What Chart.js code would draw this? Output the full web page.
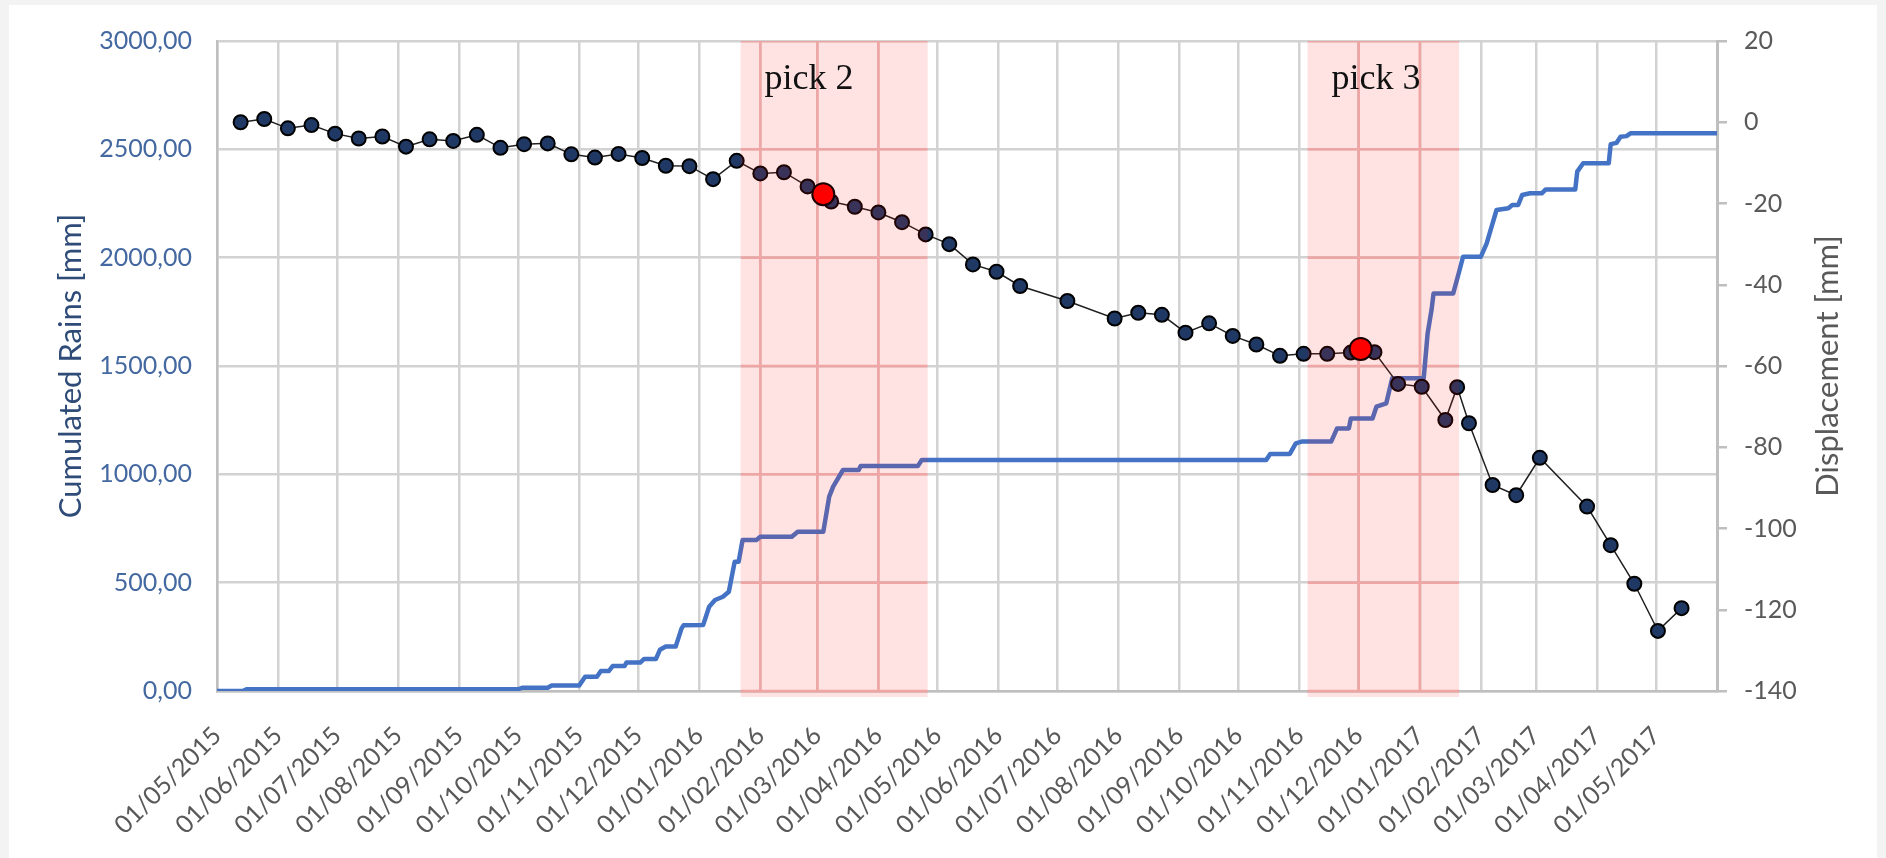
<!DOCTYPE html>
<html>
<head>
<meta charset="utf-8">
<title>Cumulated rains and displacement</title>
<script src="https://cdn.jsdelivr.net/npm/chart.js@4.4.1/dist/chart.umd.min.js"></script>
<style>
  html, body { margin: 0; padding: 0; background: #f3f3f3; width: 1886px; height: 858px; overflow: hidden; }
  #card { position: absolute; left: 9px; top: 5px; width: 1868px; height: 853px; background: #ffffff; }
  #chart { position: absolute; left: 0; top: 0; }
</style>
</head>
<body>
<div id="card"></div>
<canvas id="chart" width="1886" height="858"></canvas>
<script>
// ---- axis range and month labels ----
const axisStart = '2015-05-01';
const axisEnd = '2017-06-01';
const monthLabels = [
  '01/05/2015', '01/06/2015', '01/07/2015', '01/08/2015', '01/09/2015', '01/10/2015',
  '01/11/2015', '01/12/2015', '01/01/2016', '01/02/2016', '01/03/2016', '01/04/2016',
  '01/05/2016', '01/06/2016', '01/07/2016', '01/08/2016', '01/09/2016', '01/10/2016',
  '01/11/2016', '01/12/2016', '01/01/2017', '01/02/2017', '01/03/2017', '01/04/2017',
  '01/05/2017'
];

// ---- cumulated rainfall [mm] ----
const rainDates = [
  '2015-05-01', '2015-05-14', '2015-05-16', '2015-10-01', '2015-10-03', '2015-10-16',
  '2015-10-18', '2015-11-01', '2015-11-04', '2015-11-10', '2015-11-12', '2015-11-16',
  '2015-11-18', '2015-11-24', '2015-11-25', '2015-12-02', '2015-12-04', '2015-12-10',
  '2015-12-12', '2015-12-15', '2015-12-20', '2015-12-23', '2015-12-24', '2016-01-03',
  '2016-01-06', '2016-01-09', '2016-01-13', '2016-01-16', '2016-01-19', '2016-01-21',
  '2016-01-23', '2016-01-30', '2016-02-01', '2016-02-17', '2016-02-20', '2016-03-04',
  '2016-03-07', '2016-03-09', '2016-03-14', '2016-03-22', '2016-03-23', '2016-04-21',
  '2016-04-23', '2016-10-15', '2016-10-17', '2016-10-27', '2016-10-30', '2016-11-02',
  '2016-11-17', '2016-11-20', '2016-11-26', '2016-11-27', '2016-12-08', '2016-12-10',
  '2016-12-15', '2016-12-18', '2017-01-03', '2017-01-05', '2017-01-07', '2017-01-08',
  '2017-01-18', '2017-01-21', '2017-01-23', '2017-02-01', '2017-02-04', '2017-02-09',
  '2017-02-15', '2017-02-17', '2017-02-20', '2017-02-22', '2017-02-26', '2017-03-04',
  '2017-03-06', '2017-03-21', '2017-03-22', '2017-03-25', '2017-04-07', '2017-04-08',
  '2017-04-11', '2017-04-13', '2017-04-16', '2017-04-18', '2017-06-01'
];
const rainValues = [
  0, 0, 8, 8, 15, 15,
  25, 25, 66, 66, 92, 92,
  115, 115, 131, 131, 148, 148,
  190, 205, 205, 289, 303, 305,
  389, 420, 435, 458, 597, 597,
  697, 697, 712, 712, 735, 735,
  897, 943, 1020, 1020, 1038, 1038,
  1066, 1066, 1094, 1094, 1143, 1151,
  1151, 1212, 1212, 1258, 1258, 1312,
  1328, 1443, 1443, 1651, 1760, 1835,
  1835, 1935, 2004, 2004, 2066, 2220,
  2228, 2243, 2243, 2289, 2297, 2297,
  2315, 2315, 2397, 2436, 2436, 2524,
  2530, 2558, 2561, 2574, 2574
];

// ---- displacement [mm] ----
const dispDates = [
  '2015-05-13', '2015-05-25', '2015-06-06', '2015-06-18', '2015-06-30', '2015-07-12',
  '2015-07-24', '2015-08-05', '2015-08-17', '2015-08-29', '2015-09-10', '2015-09-22',
  '2015-10-04', '2015-10-16', '2015-10-28', '2015-11-09', '2015-11-21', '2015-12-03',
  '2015-12-15', '2015-12-27', '2016-01-08', '2016-01-20', '2016-02-01', '2016-02-13',
  '2016-02-25', '2016-03-08', '2016-03-20', '2016-04-01', '2016-04-13', '2016-04-25',
  '2016-05-07', '2016-05-19', '2016-05-31', '2016-06-12', '2016-07-06', '2016-07-30',
  '2016-08-11', '2016-08-23', '2016-09-04', '2016-09-16', '2016-09-28', '2016-10-10',
  '2016-10-22', '2016-11-03', '2016-11-15', '2016-11-27', '2016-12-09', '2016-12-21',
  '2017-01-02', '2017-01-14', '2017-01-20', '2017-01-26', '2017-02-07', '2017-02-19',
  '2017-03-03', '2017-03-27', '2017-04-08', '2017-04-20', '2017-05-02', '2017-05-14'
];
const dispValues = [
  0.0, 0.8, -1.5, -0.7, -2.8, -4.0,
  -3.5, -6.0, -4.2, -4.6, -3.1, -6.3,
  -5.4, -5.2, -7.9, -8.7, -7.8, -8.8,
  -10.7, -10.8, -14.0, -9.5, -12.6, -12.3,
  -15.8, -19.5, -20.8, -22.2, -24.6, -27.6,
  -30.0, -35.0, -36.8, -40.3, -44.0, -48.3,
  -46.9, -47.4, -51.8, -49.5, -52.6, -54.7,
  -57.5, -57.0, -57.0, -56.7, -56.6, -64.4,
  -65.1, -73.3, -65.2, -74.1, -89.3, -91.8,
  -82.6, -94.6, -104.1, -113.6, -125.2, -119.6
];

// ---- rainfall peaks: highlighted displacement and shaded periods ----
const peakDates = ['2016-03-04', '2016-12-02'];
const peakValues = [-17.7, -55.8];
const peakNames = ['pick 2', 'pick 3'];
const peakStart = ['2016-01-22', '2016-11-05'];
const peakEnd = ['2016-04-26', '2017-01-21'];

// ---- helpers ----
const DAY = 86400000;
function isoToUTC(iso) { const [y, m, d] = iso.split('-').map(Number); return Date.UTC(y, m - 1, d); }
function dmyToUTC(s) { const [d, m, y] = s.split('/').map(Number); return Date.UTC(y, m - 1, d); }
const origin = isoToUTC(axisStart);
const dayOf = iso => (isoToUTC(iso) - origin) / DAY;
const monthDays = monthLabels.map(s => (dmyToUTC(s) - origin) / DAY);
const pairs = (dates, values) => dates.map((d, i) => ({ x: dayOf(d), y: values[i] }));

const FONT = 'Lato, "Liberation Sans", sans-serif';
const GRID = '#d2d2d2';
const AXIS = '#bfbfbf';

function bandRects(chart) {
  const { chartArea, scales } = chart;
  return peakStart.map((s, i) => {
    const x0 = scales.x.getPixelForValue(dayOf(s));
    const x1 = scales.x.getPixelForValue(dayOf(peakEnd[i]));
    return { x0, x1, top: chartArea.top, bottom: chartArea.bottom + 6 };
  });
}

// shaded periods: reddish grid underneath the series, translucent tint on top of them
const peakBands = {
  id: 'peakBands',
  beforeDatasetsDraw(chart) {
    const { ctx, chartArea, scales } = chart;
    ctx.save();
    ctx.strokeStyle = 'rgb(238, 186, 186)';
    ctx.lineWidth = 2.5;
    for (const r of bandRects(chart)) {
      ctx.save();
      ctx.beginPath();
      ctx.rect(r.x0, r.top, r.x1 - r.x0, r.bottom - r.top);
      ctx.clip();
      ctx.beginPath();
      for (const t of scales.x.ticks) {
        const px = scales.x.getPixelForValue(t.value);
        ctx.moveTo(px, chartArea.top);
        ctx.lineTo(px, chartArea.bottom);
      }
      for (const t of scales.y.ticks) {
        const py = scales.y.getPixelForValue(t.value);
        ctx.moveTo(r.x0, py);
        ctx.lineTo(r.x1, py);
      }
      ctx.stroke();
      ctx.restore();
    }
    ctx.restore();
  },
  beforeDatasetDraw(chart, args) {
    if (args.index !== 2) return;
    const { ctx, chartArea } = chart;
    ctx.save();
    bandRects(chart).forEach((r, i) => {
      ctx.fillStyle = 'rgba(255, 20, 20, 0.12)';
      ctx.fillRect(r.x0, r.top, r.x1 - r.x0, r.bottom - r.top);
      ctx.fillStyle = '#111111';
      ctx.font = '36px "Liberation Serif", serif';
      ctx.textAlign = 'left';
      ctx.textBaseline = 'alphabetic';
      ctx.fillText(peakNames[i], r.x0 + 24, chartArea.top + 48);
    });
    ctx.restore();
  }
};

// right-hand title, reading bottom to top like the left one
const rightTitle = {
  id: 'rightTitle',
  afterDraw(chart) {
    const { ctx, chartArea, scales } = chart;
    ctx.save();
    ctx.translate(scales.y2.left + 111, (chartArea.top + chartArea.bottom) / 2);
    ctx.rotate(-Math.PI / 2);
    ctx.fillStyle = '#595959';
    ctx.font = '31px ' + FONT;
    ctx.textAlign = 'center';
    ctx.textBaseline = 'middle';
    ctx.fillText('Displacement [mm]', 0, 0);
    ctx.restore();
  }
};

new Chart(document.getElementById('chart'), {
  type: 'line',
  data: {
    datasets: [
      {
        label: 'Cumulated Rains',
        data: pairs(rainDates, rainValues),
        yAxisID: 'y',
        borderColor: '#4472C4',
        borderWidth: 4.5,
        pointRadius: 0,
        tension: 0,
        borderJoinStyle: 'round',
        order: 2
      },
      {
        label: 'Displacement',
        data: pairs(dispDates, dispValues),
        yAxisID: 'y2',
        borderColor: '#202020',
        borderWidth: 1.5,
        pointRadius: 7,
        pointBorderWidth: 2,
        pointBackgroundColor: '#1F3864',
        pointBorderColor: '#000000',
        tension: 0,
        order: 1
      },
      {
        label: 'Peak',
        data: pairs(peakDates, peakValues),
        yAxisID: 'y2',
        showLine: false,
        pointRadius: 11,
        pointBorderWidth: 2,
        pointBackgroundColor: '#FF0000',
        pointBorderColor: '#1a0000',
        order: 0
      }
    ]
  },
  options: {
    responsive: false,
    animation: false,
    devicePixelRatio: 1,
    layout: { padding: { top: 41, left: 0, right: 0, bottom: 0 } },
    plugins: { legend: { display: false }, tooltip: { enabled: false } },
    scales: {
      x: {
        type: 'linear',
        min: dayOf(axisStart),
        max: (isoToUTC(axisEnd) - origin) / DAY,
        afterBuildTicks(axis) { axis.ticks = monthDays.map(v => ({ value: v })); },
        afterFit(axis) { axis.height = 167; },
        grid: { color: GRID, lineWidth: 2.5, drawTicks: false },
        border: { color: AXIS, width: 2.5 },
        ticks: {
          autoSkip: false,
          maxRotation: 45,
          minRotation: 45,
          padding: 30,
          color: '#595959',
          font: { family: FONT, size: 25 },
          callback: (v, i) => monthLabels[i]
        }
      },
      y: {
        position: 'left',
        min: 0,
        max: 3000,
        afterFit(axis) { axis.width = 217; },
        grid: { color: GRID, lineWidth: 2.5, drawTicks: false },
        border: { color: AXIS, width: 2.5 },
        ticks: {
          stepSize: 500,
          padding: 25,
          color: '#4468A0',
          font: { family: FONT, size: 25 },
          callback: v => v.toFixed(2).replace('.', ',')
        },
        title: {
          display: true,
          text: 'Cumulated Rains [mm]',
          color: '#2F4B78',
          font: { family: FONT, size: 31 },
          padding: { top: 52, bottom: 0 }
        }
      },
      y2: {
        position: 'right',
        min: -140,
        max: 20,
        afterFit(axis) { axis.width = 169; },
        grid: { drawOnChartArea: false, drawTicks: true, tickLength: 10, color: AXIS, lineWidth: 2.5 },
        border: { color: AXIS, width: 3 },
        ticks: {
          stepSize: 20,
          padding: 17,
          color: '#595959',
          font: { family: FONT, size: 25 }
        }
      }
    }
  },
  plugins: [peakBands, rightTitle]
});
</script>
</body>
</html>
